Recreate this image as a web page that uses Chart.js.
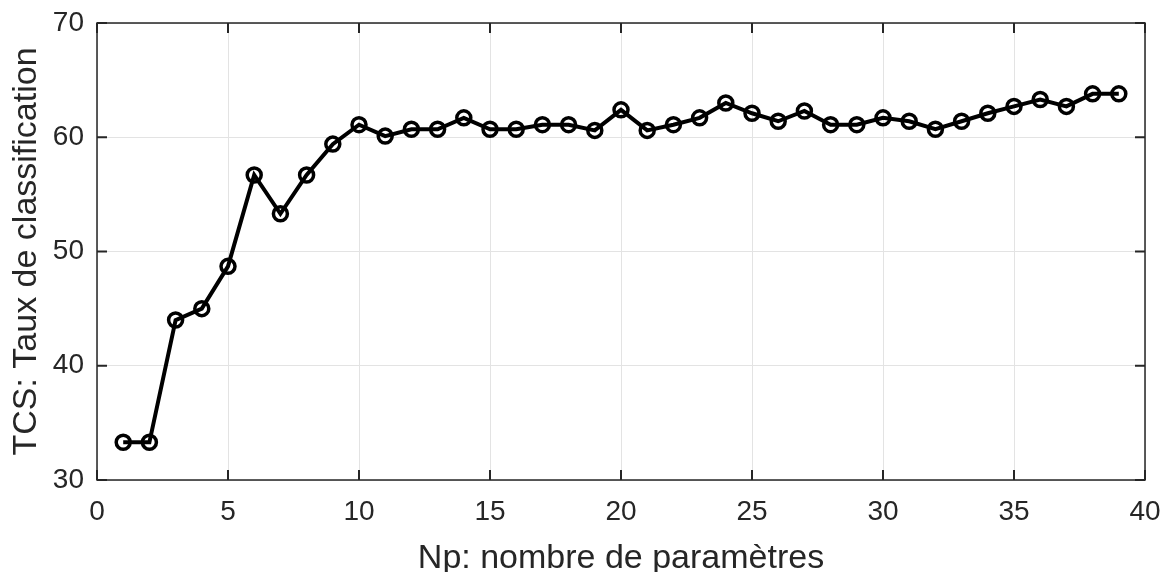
<!DOCTYPE html>
<html>
<head>
<meta charset="utf-8">
<script src="https://cdn.jsdelivr.net/npm/chart.js@4"></script>
<style>
  html, body { margin: 0; padding: 0; background: #fff; }
  #wrap { width: 1160px; height: 572px; }
</style>
</head>
<body>
<div id="wrap"><canvas id="tcsChart" width="1160" height="572"></canvas></div>
<script>
// nombre de parametres (axe x)
const np = [1, 2, 3, 4, 5, 6, 7, 8, 9, 10, 11, 12, 13, 14, 15, 16, 17, 18, 19, 20,
            21, 22, 23, 24, 25, 26, 27, 28, 29, 30, 31, 32, 33, 34, 35, 36, 37, 38, 39];
// taux de classification (%)
const tcs = [33.3, 33.3, 44.0, 45.0, 48.7, 56.7, 53.3, 56.7, 59.4, 61.1,
             60.1, 60.7, 60.7, 61.7, 60.7, 60.7, 61.1, 61.1, 60.6, 62.4,
             60.6, 61.1, 61.7, 63.0, 62.1, 61.4, 62.3, 61.1, 61.1, 61.7,
             61.4, 60.7, 61.4, 62.1, 62.7, 63.3, 62.7, 63.8, 63.8];
const xTicks = [0, 5, 10, 15, 20, 25, 30, 35, 40];
const yTicks = [30, 40, 50, 60, 70];

const axisColor = '#262626';
const font = 'Liberation Sans, Arial, Helvetica, sans-serif';

// cadre + graduations vers l'interieur (style MATLAB)
const boxPlugin = {
    id: 'boxPlugin',
    afterDatasetsDraw(chart) {
        const { ctx, chartArea: a, scales: { x, y } } = chart;
        ctx.save();
        ctx.strokeStyle = axisColor;
        ctx.lineWidth = 1.5;
        ctx.strokeRect(a.left, a.top, a.right - a.left, a.bottom - a.top);
        ctx.lineWidth = 2;
        ctx.beginPath();
        xTicks.forEach(v => {
            const px = x.getPixelForValue(v);
            ctx.moveTo(px, a.bottom); ctx.lineTo(px, a.bottom - 10);
            ctx.moveTo(px, a.top); ctx.lineTo(px, a.top + 10);
        });
        yTicks.forEach(v => {
            const py = y.getPixelForValue(v);
            ctx.moveTo(a.left, py); ctx.lineTo(a.left + 10, py);
            ctx.moveTo(a.right, py); ctx.lineTo(a.right - 10, py);
        });
        ctx.stroke();
        ctx.restore();
    }
};

document.addEventListener("DOMContentLoaded", function() {
    const ctx = document.getElementById('tcsChart').getContext('2d');

    new Chart(ctx, {
        type: 'line',
        data: {
            datasets: [{
                data: np.map((v, i) => ({ x: v, y: tcs[i] })),
                borderColor: '#000',
                borderWidth: 4,
                pointRadius: 7,
                pointBorderWidth: 3.5,
                pointBorderColor: '#000',
                pointBackgroundColor: 'rgba(0,0,0,0)',
                fill: false,
                tension: 0
            }]
        },
        options: {
            responsive: false,
            animation: false,
            layout: { padding: { left: 0, top: 23, right: 15, bottom: 0 } },
            plugins: { legend: { display: false }, tooltip: { enabled: false } },
            scales: {
                x: {
                    type: 'linear',
                    min: 0, max: 40,
                    afterBuildTicks: s => { s.ticks = xTicks.map(v => ({ value: v })); },
                    afterFit: s => { s.height = 92; s.paddingLeft = 0; s.paddingRight = 0; },
                    grid: { color: '#e3e3e3', lineWidth: 1, drawTicks: false },
                    border: { display: false },
                    ticks: { color: axisColor, padding: 15, font: { family: font, size: 28 } },
                    title: {
                        display: true,
                        text: 'Np: nombre de paramètres',
                        color: axisColor,
                        padding: { top: 0, bottom: 0 },
                        font: { family: font, size: 34, lineHeight: 0.8 }
                    }
                },
                y: {
                    min: 30, max: 70,
                    afterBuildTicks: s => { s.ticks = yTicks.map(v => ({ value: v })); },
                    afterFit: s => { s.width = 97; s.paddingTop = 0; s.paddingBottom = 0; },
                    grid: { color: '#e3e3e3', lineWidth: 1, drawTicks: false },
                    border: { display: false },
                    ticks: { color: axisColor, padding: 13, font: { family: font, size: 28 } },
                    title: {
                        display: true,
                        text: 'TCS: Taux de classification',
                        color: axisColor,
                        padding: { top: 6, bottom: 0 },
                        font: { family: font, size: 34 }
                    }
                }
            }
        },
        plugins: [boxPlugin]
    });
});
</script>
</body>
</html>
